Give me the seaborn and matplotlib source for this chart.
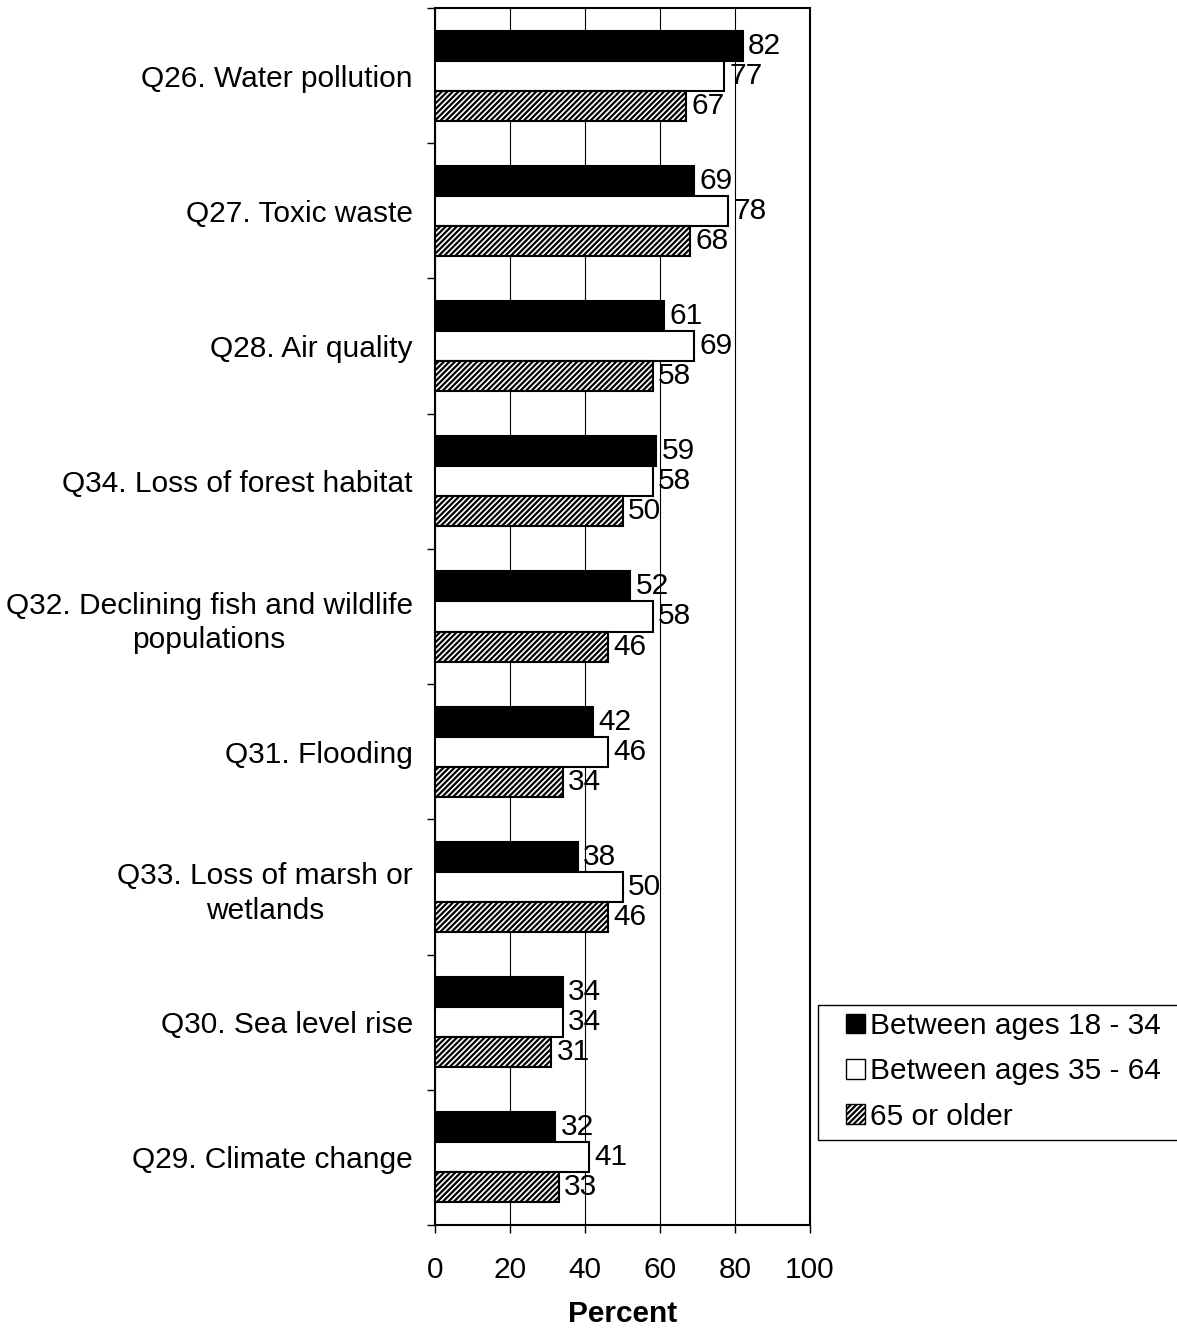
import matplotlib
matplotlib.use("Agg")
import matplotlib.pyplot as plt
import matplotlib.patches as mpatches
from matplotlib.ticker import FixedLocator
import seaborn as sns
import pandas as pd

# data
questions = ["Q26. Water pollution", "Q27. Toxic waste", "Q28. Air quality",
             "Q34. Loss of forest habitat",
             "Q32. Declining fish and wildlife\npopulations",
             "Q31. Flooding", "Q33. Loss of marsh or\nwetlands",
             "Q30. Sea level rise", "Q29. Climate change"]
groups = ["Between ages 18 - 34", "Between ages 35 - 64", "65 or older"]
age_18_34 = [82, 69, 61, 59, 52, 42, 38, 34, 32]
age_35_64 = [77, 78, 69, 58, 58, 46, 50, 34, 41]
age_65_up = [67, 68, 58, 50, 46, 34, 46, 31, 33]

rows = []
for g, vals in zip(groups, [age_18_34, age_35_64, age_65_up]):
    for q, v in zip(questions, vals):
        rows.append({"Question": q, "Group": g, "Percent": v})
df = pd.DataFrame(rows)

sns.set_theme(style="white")
plt.rcParams['font.family'] = ['Liberation Sans', 'DejaVu Sans']
plt.rcParams['hatch.linewidth'] = 1.6
plt.rcParams['text.color'] = 'black'
plt.rcParams['xtick.labelcolor'] = 'black'
plt.rcParams['ytick.labelcolor'] = 'black'
plt.rcParams['axes.labelcolor'] = 'black'

FS = 21.5
W, H = 1177, 1332

fig = plt.figure(figsize=(W / 100, H / 100), dpi=100)
ax = fig.add_axes([435 / W, 1 - 1225 / H, 375 / W, 1217 / H])

sns.barplot(data=df, y="Question", x="Percent", hue="Group", order=questions,
            hue_order=groups, palette=["black", "white", "white"],
            orient="h", width=0.667, edgecolor="black", linewidth=1.5,
            ax=ax, legend=False, zorder=3)

hatches = [None, None, "//////"]
for cont, h in zip(ax.containers, hatches):
    for p in cont.patches:
        p.set_edgecolor("black")
        if h:
            p.set_hatch(h)
    ax.bar_label(cont, fontsize=FS, padding=4)

ax.set_xlim(0, 100)
ax.set_ylim(len(questions) - 0.5, -0.5)
ax.set_xticks([0, 20, 40, 60, 80, 100])
ax.xaxis.grid(True, color="black", linewidth=0.8, zorder=0)
ax.set_axisbelow(True)
ax.tick_params(axis="x", labelsize=FS, length=6, width=1, direction="out",
               bottom=True, color="black", pad=16)
ax.tick_params(axis="y", which="major", labelsize=FS, length=0, pad=16)
ax.yaxis.set_minor_locator(FixedLocator([i - 0.5 for i in range(len(questions) + 1)]))
ax.tick_params(axis="y", which="minor", length=6, width=1, left=True,
               color="black")
for lbl in ax.get_yticklabels():
    lbl.set_multialignment("center")
    lbl.set_linespacing(1.3)
for s in ax.spines.values():
    s.set_color("black")
    s.set_linewidth(1.5)
ax.set_ylabel("")
ax.set_xlabel("Percent", fontsize=FS, fontweight="bold", labelpad=12)

# legend frame drawn separately so it can run off the right edge
frame = mpatches.Rectangle((818 / W, 1 - 1140 / H), 400 / W, 135 / H,
                           transform=fig.transFigure, facecolor="white",
                           edgecolor="black", linewidth=1, zorder=1)
fig.patches.append(frame)

handles = [mpatches.Patch(facecolor="black", edgecolor="black"),
           mpatches.Patch(facecolor="white", edgecolor="black"),
           mpatches.Patch(facecolor="white", edgecolor="black", hatch="//////")]
leg = fig.legend(handles, groups, loc="upper left",
                 bbox_to_anchor=(846 / W, 1 - 1012 / H),
                 fontsize=FS, frameon=False,
                 handlelength=0.65, handleheight=0.65, handletextpad=0.15,
                 borderpad=0, labelspacing=0.58, borderaxespad=0)
leg.set_zorder(2)

fig.savefig("out.png", dpi=100)
